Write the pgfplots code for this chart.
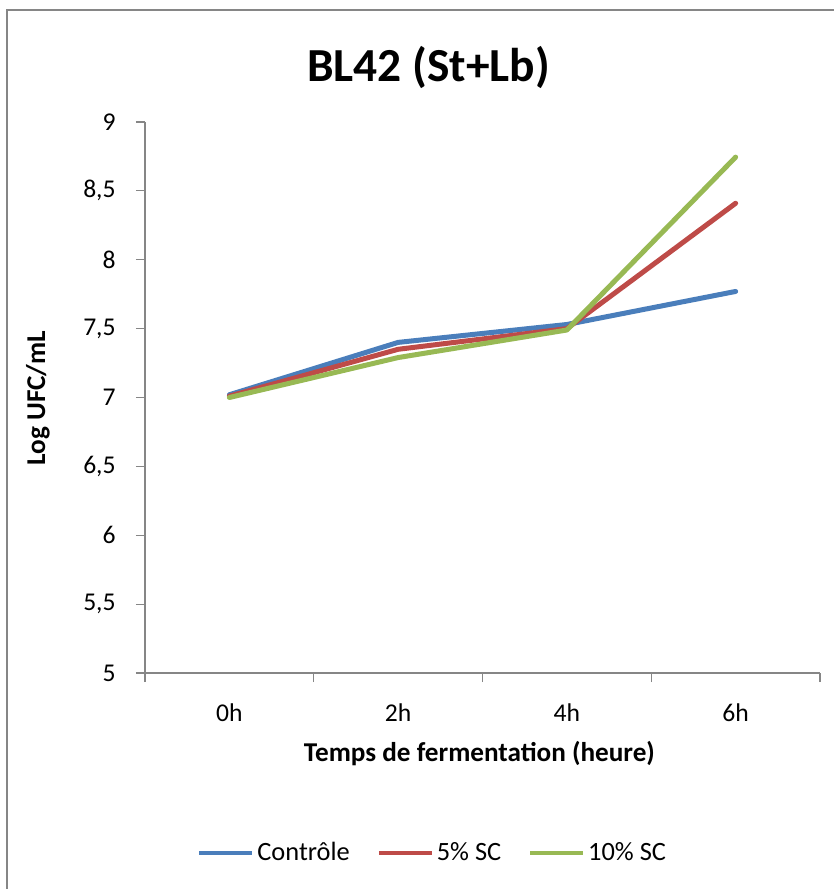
\documentclass[border=0pt]{standalone}
\usepackage{pgfplots}
\pgfplotsset{compat=1.18}
\usepackage{fontspec}
\setmainfont{Carlito}
\definecolor{cblue}{HTML}{4A7EBB}
\definecolor{cred}{HTML}{BE4B48}
\definecolor{cgreen}{HTML}{98B954}
\definecolor{axgray}{HTML}{868686}
\begin{document}
\begin{tikzpicture}
\useasboundingbox (-72.5pt,-108pt) rectangle (344.5pt,336.5pt);
\draw[axgray, line width=0.8pt] (-69pt,-130pt) -- (-69pt,331.5pt) -- (360pt,331.5pt);
\begin{axis}[
  at={(0,0)}, anchor=south west,
  scale only axis, width=337.5pt, height=275.5pt,
  xmin=-0.5, xmax=3.5, ymin=5, ymax=9,
  axis x line*=bottom, axis y line*=left,
  axis line style={axgray, line width=0.6pt},
  tick style={axgray, line width=0.6pt},
  tick align=outside, major tick length=4.5pt,
  xtick={-0.5,0.5,1.5,2.5,3.5}, xticklabels={},
  extra x ticks={0,1,2,3}, extra x tick labels={0h,2h,4h,6h},
  extra x tick style={major tick length=0pt},
  ytick={5,5.5,...,9},
  /pgf/number format/.cd, use comma, assume math mode=true, /pgfplots/.cd,
  tick label style={font=\fontsize{12.8}{15}\selectfont, text=black},
  yticklabel style={anchor=east, inner sep=0pt, xshift=-10pt},
  xticklabel style={anchor=north, inner sep=0pt, yshift=-15pt},
  legend style={at={(0.427,-0.327)}, anchor=center, draw=none, fill=none,
    legend columns=3, inner sep=0pt,
    /tikz/every even column/.append style={column sep=12pt},
    font=\fontsize{13.2}{15}\selectfont, nodes={inner sep=1.5pt}},
  legend image code/.code={\draw[#1, line width=2pt, line cap=butt] (0pt,0pt) -- (26.5pt,0pt);},
  every axis plot/.append style={line width=2.5pt, line cap=round, line join=round},
]
\addplot[cblue] coordinates {(0,7.02) (1,7.40) (2,7.53) (3,7.77)};
\addlegendentry{Contrôle}
\addplot[cred] coordinates {(0,7.01) (1,7.35) (2,7.50) (3,8.41)};
\addlegendentry{5\% SC}
\addplot[cgreen] coordinates {(0,7.00) (1,7.29) (2,7.49) (3,8.745)};
\addlegendentry{10\% SC}
\end{axis}
\node[anchor=base, font=\bfseries\fontsize{23.7}{28}\selectfont] at (141.75pt,295.5pt) {BL42 (St+Lb)};
\node[anchor=base, font=\bfseries\fontsize{13.6}{16}\selectfont] at (167.25pt,-44pt) {Temps de fermentation (heure)};
\node[rotate=90, anchor=center, font=\bfseries\fontsize{13.6}{16}\selectfont] at (-53.5pt,137.5pt) {Log UFC/mL};
\end{tikzpicture}
\end{document}
